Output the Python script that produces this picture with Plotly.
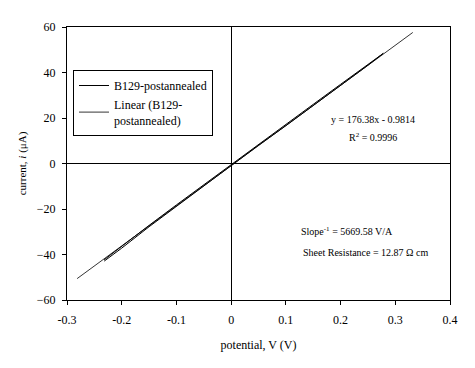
import plotly.graph_objects as go

# Measured sweep (forward and return branches)
v_fwd = [-0.232, -0.20, -0.15, -0.10, -0.05, 0.0, 0.05, 0.10, 0.15, 0.20, 0.25, 0.278]
i_fwd = [-42.9, -37.2, -27.8, -18.8, -9.8, -0.8, 8.0, 16.6, 25.4, 34.3, 43.2, 48.4]
v_rev = [0.278, 0.25, 0.20, 0.15, 0.10, 0.05, 0.0, -0.05, -0.10, -0.15, -0.20, -0.232]
i_rev = [48.4, 43.6, 34.8, 26.0, 17.2, 8.6, -0.2, -9.2, -18.2, -27.2, -36.6, -42.3]

# Linear trendline end points
v_fit = [-0.2815, 0.332]
i_fit = [-50.6, 57.6]

x_ticks = [-0.3, -0.2, -0.1, 0, 0.1, 0.2, 0.3, 0.4]
x_tick_text = ["-0.3", "-0.2", "-0.1", "0", "0.1", "0.2", "0.3", "0.4"]
y_ticks = [-60, -40, -20, 0, 20, 40, 60]

FONT = "Liberation Serif, Times New Roman, serif"

fig = go.Figure()
fig.add_trace(go.Scatter(
    x=v_fwd + v_rev, y=i_fwd + i_rev, mode="lines",
    name="B129-postannealed",
    line=dict(color="black", width=1),
))
fig.add_trace(go.Scatter(
    x=v_fit, y=i_fit, mode="lines",
    name="Linear (B129-<br>postannealed)",
    line=dict(color="black", width=0.8),
))

axis_common = dict(
    showline=True, mirror=True, linecolor="black", linewidth=1,
    ticks="outside", ticklen=4, tickcolor="black", tickwidth=1,
    showgrid=False, zeroline=True, zerolinecolor="black", zerolinewidth=1,
    tickfont=dict(family=FONT, size=12, color="black"),
)

fig.update_xaxes(
    range=[-0.3, 0.4], tickvals=x_ticks, ticktext=x_tick_text, ticklabelstandoff=5,
    title=dict(text="potential, V (V)", font=dict(family=FONT, size=12, color="black"), standoff=14),
    **axis_common,
)
fig.update_yaxes(
    range=[-60, 60], tickvals=y_ticks, ticklabelstandoff=4,
    title=dict(text="current, <i>i</i> (μA)", font=dict(family=FONT, size=11, color="black"), standoff=7),
    **axis_common,
)

# plot area in screenshot: x 67..450, y 27..300
def dx(px):
    return (px - 67) / 383

def dy(py):
    return (300 - py) / 273

ann_font = dict(family=FONT, size=10, color="black")
fig.add_annotation(x=dx(373), y=dy(119), xref="x domain", yref="y domain",
                   xanchor="center", yanchor="middle",
                   text="y = 176.38x - 0.9814", showarrow=False, font=ann_font)
fig.add_annotation(x=dx(373), y=dy(137), xref="x domain", yref="y domain",
                   xanchor="center", yanchor="middle",
                   text="R<sup>2</sup> = 0.9996", showarrow=False, font=ann_font)
fig.add_annotation(x=dx(299), y=dy(231), xref="x domain", yref="y domain",
                   xanchor="left", yanchor="middle",
                   text="Slope<sup>-1</sup> = 5669.58 V/A", showarrow=False, font=ann_font)
fig.add_annotation(x=dx(301), y=dy(252), xref="x domain", yref="y domain",
                   xanchor="left", yanchor="middle",
                   text="Sheet Resistance = 12.87 Ω cm", showarrow=False, font=ann_font)

# page body has an 8px margin, so shift margins accordingly
fig.update_layout(
    width=475, height=368,
    margin=dict(l=59, r=33, t=19, b=76),
    paper_bgcolor="white", plot_bgcolor="white",
    showlegend=True,
    legend=dict(
        x=dx(73), y=dy(70), xanchor="left", yanchor="top",
        bgcolor="white", bordercolor="black", borderwidth=1,
        font=dict(family=FONT, size=12, color="black"),
        itemwidth=30, tracegroupgap=4,
    ),
)

fig.write_html("out.html")
